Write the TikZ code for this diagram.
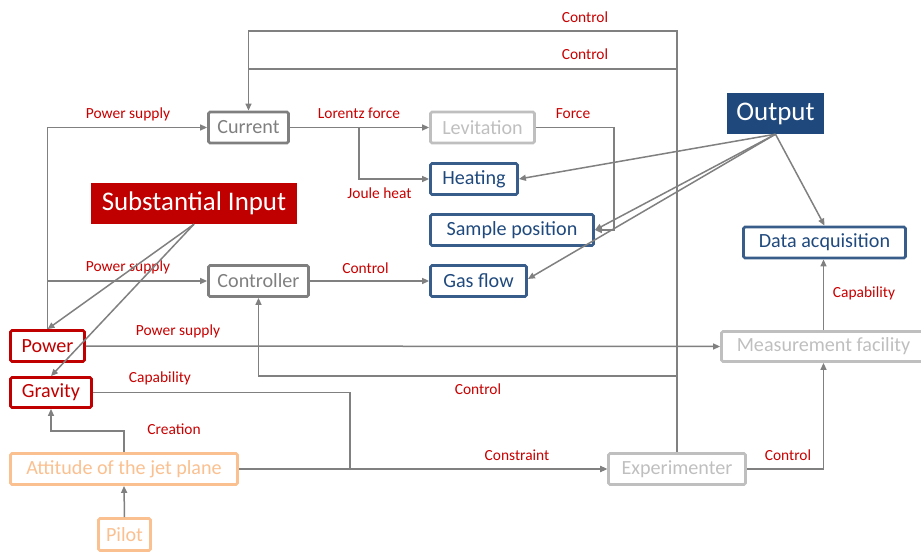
\documentclass[tikz,border=0pt]{standalone}
\usepackage{fontspec}
\setmainfont{Carlito}
\usetikzlibrary{arrows.meta}
\definecolor{lnc}{HTML}{808080}
\definecolor{dgray}{HTML}{7F7F7F}
\definecolor{lgray}{HTML}{BFBFBF}
\definecolor{bblue}{HTML}{385D8A}
\definecolor{tblue}{HTML}{1F497D}
\definecolor{red1}{HTML}{C00000}
\definecolor{labred}{HTML}{C80000}
\definecolor{org}{HTML}{FAC090}
\begin{document}
\begin{tikzpicture}[x=1bp,y=-1bp,
  box/.style={draw, line width=2.8bp, rounded corners=1.5bp, inner sep=0pt, minimum height=31bp, font=\fontsize{20.2}{22}\selectfont},
  gbox/.style={box, draw=dgray, text=dgray},
  lbox/.style={box, draw=lgray, text=lgray},
  bbox/.style={box, draw=bblue, text=tblue},
  rbox/.style={box, draw=red1, text=red1},
  obox/.style={box, draw=org, text=org},
  big/.style={inner sep=0pt, font=\fontsize{27}{30}\selectfont, text=white},
  lab/.style={font=\fontsize{15.5}{17}\selectfont, text=labred, inner sep=0pt},
  arr/.style={draw=lnc, line width=1.5bp, -{Triangle[length=7bp,width=6bp]}},
  ln/.style={draw=lnc, line width=1.5bp}]
\useasboundingbox (0,0) rectangle (921,554);
\clip (0,0) rectangle (921,554);
% nodes
\node[gbox, minimum width=80bp] (cur) at (248.5,127.5) {Current};
\node[lbox, minimum width=104bp] (lev) at (482.5,127.5) {Levitation};
\node[bbox, minimum width=87bp] (heat) at (474,179) {Heating};
\node[bbox, minimum width=163bp] (samp) at (512,230) {Sample position};
\node[bbox, minimum width=96bp] (gas) at (478.5,281) {Gas flow};
\node[big, fill=tblue, minimum width=97bp, minimum height=41bp] (out) at (775.5,113.5) {Output};
\node[bbox, minimum width=162bp] (daq) at (824.5,242.5) {Data acquisition};
\node[big, fill=red1, minimum width=206bp, minimum height=41bp] (sub) at (194,203.5) {Substantial Input};
\node[gbox, minimum width=100bp] (ctl) at (258.5,281) {Controller};
\node[rbox, minimum width=74bp] (pow) at (47.5,346) {Power};
\node[rbox, minimum width=81bp, minimum height=30bp] (grav) at (51,392.5) {Gravity};
\node[obox, minimum width=227bp] (att) at (124,469) {Attitude of the jet plane};
\node[obox, minimum width=52bp, minimum height=32bp] (pil) at (124.5,534.5) {Pilot};
\node[lbox, minimum width=204bp, minimum height=30bp] (meas) at (823.5,346.5) {Measurement facility};
\node[lbox, minimum width=137bp] (exp) at (677,469) {Experimenter};
% labels
\node[lab] (l1) at (585,17) {Control};
\node[lab] (l2) at (585,54) {Control};
\node[lab] (l3) at (128,114) {Power supply};
\node[lab] (l4) at (359,113) {Lorentz force};
\node[lab] (l5) at (573,114) {Force};
\node[lab] (l6) at (379.5,193) {Joule heat};
\node[lab] (l7) at (128,267) {Power supply};
\node[lab] (l8) at (365.5,268) {Control};
\node[lab] (l9) at (178,331) {Power supply};
\node[lab] (l10) at (160,378) {Capability};
\node[lab] (l11) at (478,389) {Control};
\node[lab] (l12) at (174,429) {Creation};
\node[lab] (l13) at (517,455) {Constraint};
\node[lab] (l14) at (788,455) {Control};
\node[lab] (l15) at (864,293) {Capability};
% helper coordinates
\coordinate (t1) at (0,31);
\coordinate (t2) at (0,69);
\coordinate (t3) at (0,376);
\coordinate (jh) at (359,127.5);
\coordinate (fx) at (614,230);
\coordinate (cx) at (350,469);
\coordinate (cr) at (0,431);
% connectors
\draw[arr] (exp.north) -- (exp.north |- t1) -| (cur.north);
\draw[ln] (exp.north |- t2) -- (cur.north |- t2);
\draw[arr] (pow.north) |- (cur.west);
\draw[arr] (pow.north |- ctl.west) -- (ctl.west);
\draw[arr] (cur.east) -- (lev.west);
\draw[arr] (jh) |- (heat.west);
\draw[arr] (lev.east) -| (fx) -- (samp.east);
\draw[arr] (ctl.east) -- (gas.west);
\draw[arr] (out.south) -- (heat.east);
\draw[arr] (out.south) -- (samp.east);
\draw[arr] (out.south) -- ([yshift=2bp]gas.east);
\draw[arr] (out.south) -- (daq.north);
\draw[arr] (sub.south) -- (pow.north);
\draw[arr] (sub.south) -- (grav.north);
\draw[arr] (pow.east) -- (meas.west);
\draw[arr] (exp.north |- t3) -| (ctl.south);
\draw[arr] (grav.east) -| (cx) -- (exp.west);
\draw[arr] (att.east) -- (exp.west);
\draw[arr] (att.north) -- (att.north |- cr) -| (grav.south);
\draw[arr] (pil.north) -- (att.south);
\draw[arr] (exp.east) -| (meas.south);
\draw[arr] (meas.north) -- (meas.north |- daq.south);
\end{tikzpicture}
\end{document}
